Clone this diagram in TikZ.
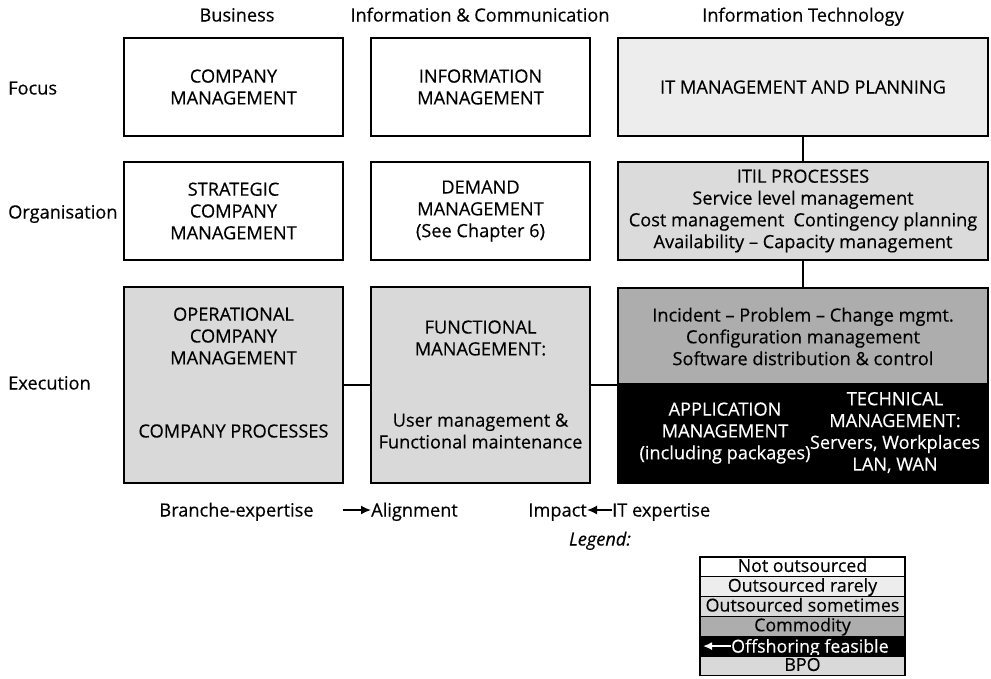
\documentclass[tikz,border=0pt]{standalone}
\usepackage{fontspec}
\setmainfont{Open Sans}[FakeBold=0.35]
\usetikzlibrary{arrows.meta}
\definecolor{rare}{gray}{0.93}
\definecolor{sometimes}{gray}{0.86}
\definecolor{commodity}{gray}{0.68}
\definecolor{bpo}{gray}{0.85}
\begin{document}
\begin{tikzpicture}[x=1pt,y=-1pt,
  font=\fontsize{18.2}{21.8}\selectfont,
  cell/.style={draw=black, line width=1.5pt, align=center, inner sep=0pt, outer sep=0pt},
  narrow/.style={minimum width=219, minimum height=98},
  wide/.style={minimum width=370, minimum height=98},
  txt/.style={inner sep=0pt, align=center},
  lbl/.style={inner sep=0pt, text height=13pt, text depth=0pt},
  key/.style={draw=black, line width=1.2pt, inner sep=0pt, minimum width=205, minimum height=19.8,
              text height=13pt, text depth=3pt, font=\fontsize{17.8}{20}\selectfont},
  link/.style={line width=1.5pt},
  arr/.style={line width=1.6pt, -{Latex[length=10pt,width=9pt]}}]
\useasboundingbox (0,0) rectangle (991,678);

% column headers
\node[lbl] (hbus) at (237,15) {Business};
\node[lbl] (hinf) at (480,15) {Information \& Communication};
\node[lbl] (hit)  at (803,15) {Information Technology};

% row headers
\node[lbl, anchor=west] (rfoc) at (8,88)  {Focus};
\node[lbl, anchor=west] (rorg) at (8,212) {Organisation};
\node[lbl, anchor=west] (rexe) at (8,383) {Execution};

% focus row
\node[cell, narrow] (cm)  at (233.5,87) {COMPANY\\MANAGEMENT};
\node[cell, narrow] (im)  at (480.5,87) {INFORMATION\\MANAGEMENT};
\node[cell, wide, fill=rare] (itm) at (803,87) {IT MANAGEMENT AND PLANNING};

% organisation row
\node[cell, narrow] (scm) at (233.5,211) {STRATEGIC\\COMPANY\\MANAGEMENT};
\node[cell, narrow] (dm)  at (480.5,211) {DEMAND\\MANAGEMENT\\(See Chapter 6)};
\node[cell, wide, fill=sometimes] (itil) at (803,211)
  {ITIL PROCESSES\\Service level management\\Cost management\hspace{0.5em}Contingency planning\\Availability -- Capacity management};

% execution row
\node[cell, minimum width=219, minimum height=196, fill=bpo] (ocm) at (233.5,385) {};
\node[txt] (ocmt) at (233.5,336) {OPERATIONAL\\COMPANY\\MANAGEMENT};
\node[lbl] (cproc) at (233.5,431) {COMPANY PROCESSES};

\node[cell, minimum width=219, minimum height=196, fill=bpo] (fm) at (480.5,385) {};
\node[txt] (fmt) at (480.5,338) {FUNCTIONAL\\MANAGEMENT:};
\node[txt] (fmu) at (480.5,431) {User management \&\\Functional maintenance};

\node[cell, minimum width=370, minimum height=97, fill=commodity] (ops) at (803,336.5)
  {Incident -- Problem -- Change mgmt.\\Configuration management\\Software distribution \& control};
\node[cell, minimum width=370, minimum height=99, fill=black] (off) at (803,433.5) {};
\node[txt, text=white] (app)  at (725,433) {APPLICATION\\MANAGEMENT\\(including packages)};
\node[txt, text=white] (tech) at (895,432.5) {TECHNICAL\\MANAGEMENT:\\Servers, Workplaces\\LAN, WAN};

% connectors
\draw[link] (itm) -- (itil);
\draw[link] (itil) -- (ops);
\draw[link] (ocm) -- (fm);
\draw[link] (fm.east) -- (fm.east -| ops.west);

% expertise line
\node[lbl] (branche) at (236.5,510) {Branche-expertise};
\node[lbl, anchor=west] (align) at (371,510) {Alignment};
\coordinate (aligntail) at (343,510);
\draw[arr] (aligntail) -- (align.west);
\node[lbl, anchor=east] (impact) at (587,510) {Impact};
\node[lbl, anchor=west] (itexp) at (612,510) {IT expertise};
\draw[arr] (itexp.west) -- (impact.east);

% legend
\node[lbl] (legend) at (600,539) {\itshape Legend:};
\node[key, fill=white]     (k1) at (802.5,566.9) {Not outsourced};
\node[key, fill=rare]      (k2) at (802.5,586.7) {Outsourced rarely};
\node[key, fill=sometimes] (k3) at (802.5,606.5) {Outsourced sometimes};
\node[key, fill=commodity] (k4) at (802.5,626.3) {Commodity};
\node[key, fill=black]     (k5) at (802.5,646.1) {};
\node[lbl, anchor=west, text=white, font=\fontsize{17.8}{20}\selectfont] (k5t) at (731,646.1) {Offshoring feasible};
\coordinate (k5tip) at (703,646.1);
\draw[arr, white, -{Latex[length=9pt,width=8pt]}] (k5t.west) -- (k5tip);
\node[key, fill=bpo]       (k6) at (802.5,665.9) {BPO};
\end{tikzpicture}
\end{document}
